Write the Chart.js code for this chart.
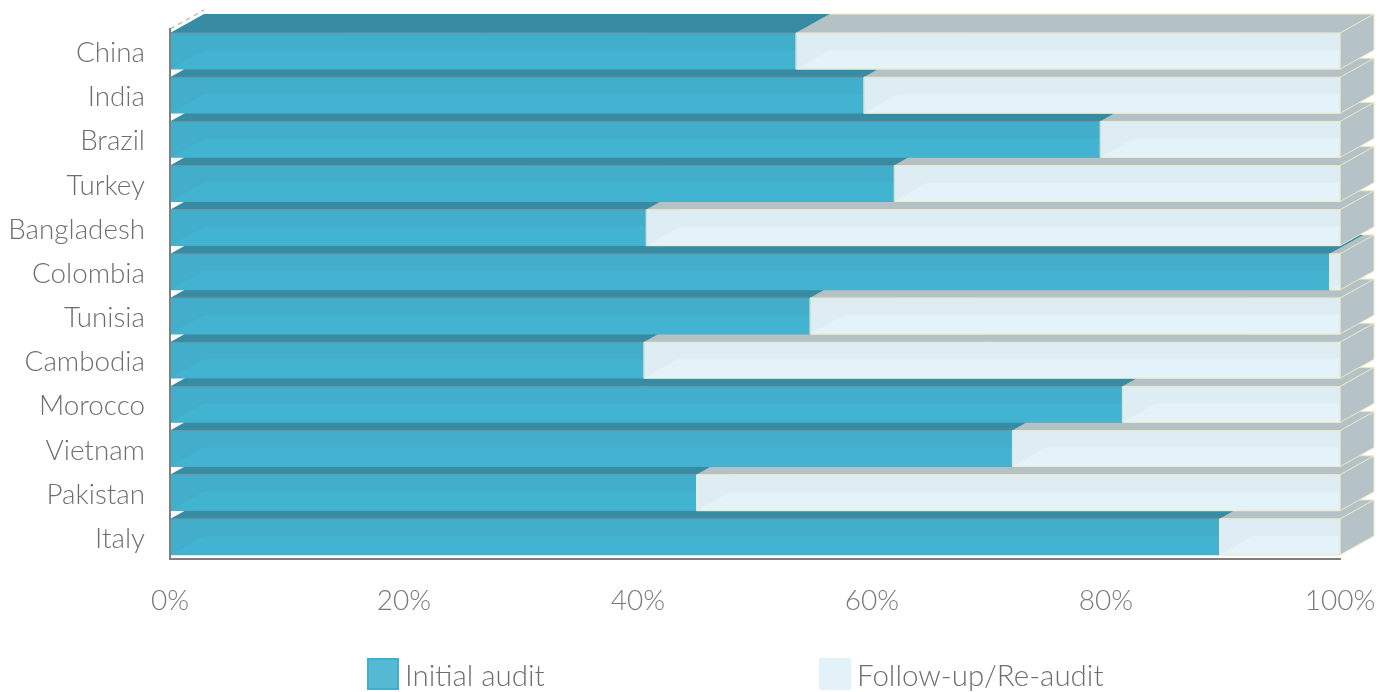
<!doctype html>
<html>

<head>
    <title>Audits</title>
    <script src="https://cdn.jsdelivr.net/npm/chart.js"></script>
    <style>
        body { margin: 0; background: #fff; }
        #wrap { position: relative; width: 1390px; height: 692px; overflow: hidden; }
        .item { position: absolute; top: 658px; height: 32px; font: 300 29.5px Lato, sans-serif; color: #6e6e6e; white-space: nowrap; }
        .box { position: absolute; left: 0; top: 0; width: 32px; height: 32px; box-sizing: border-box; }
        .txt { position: absolute; left: 38px; top: -1px; line-height: 36px; }
    </style>
</head>

<body>
    <div id="wrap">
        <canvas id="audits" width="1390" height="692"></canvas>
        <div class="item" style="left: 367px"><div class="box" style="background: #56b9d3; border: 2px solid #3fafcf"></div><span class="txt" id="l0"></span></div>
        <div class="item" style="left: 819px"><div class="box" style="background: #e3f2f9"></div><span class="txt" id="l1"></span></div>
    </div>

    <script>
        const countries = ['China', 'India', 'Brazil', 'Turkey', 'Bangladesh', 'Colombia', 'Tunisia', 'Cambodia', 'Morocco', 'Vietnam', 'Pakistan', 'Italy']
        const initialAudit = [53.5, 59.3, 79.5, 61.9, 40.7, 99.1, 54.7, 40.5, 81.4, 72.0, 45.0, 89.7]
        const followUp = [46.5, 40.7, 20.5, 38.1, 59.3, 0.9, 45.3, 59.5, 18.6, 28.0, 55.0, 10.3]

        // depth of the fake 3d box
        const dx = 34, dy = 19
        const faces = [
            { top: '#378ca3', side: '#378ca3', floor: '#42b4d1', edge: '#6f939b' },
            { top: '#b4c2c6', side: '#b5c3c8', floor: '#e4f3f9', edge: '#ece8c4' }
        ]

        function poly(ctx, pts, fill, stroke) {
            ctx.beginPath()
            pts.forEach((p, i) => i ? ctx.lineTo(p[0], p[1]) : ctx.moveTo(p[0], p[1]))
            ctx.closePath()
            if (fill) { ctx.fillStyle = fill; ctx.fill() }
            if (stroke) { ctx.strokeStyle = stroke; ctx.lineWidth = 1; ctx.stroke() }
        }

        // no extra room for the labels that hang over the plot edges
        function noOverflow(s) {
            s.paddingLeft = s.paddingRight = s.paddingTop = s.paddingBottom = 0
        }

        const box3d = {
            id: 'box3d',
            beforeDatasetsDraw(chart) {
                const ctx = chart.ctx, a = chart.chartArea
                ctx.save()
                // dashed depth line of the corner
                ctx.setLineDash([5, 4])
                ctx.strokeStyle = '#bdbdbd'
                ctx.lineWidth = 1.5
                ctx.beginPath()
                ctx.moveTo(a.left, a.top)
                ctx.lineTo(a.left + dx, a.top - dy)
                ctx.stroke()
                ctx.setLineDash([])
                // top and side faces, bottom row first
                for (let i = countries.length - 1; i >= 0; i--) {
                    chart.data.datasets.forEach((ds, d) => {
                        const el = chart.getDatasetMeta(d).data[i]
                        const y0 = el.y - el.height / 2, y1 = el.y + el.height / 2
                        const f = faces[d]
                        poly(ctx, [[el.base, y0], [el.x, y0], [el.x + dx, y0 - dy], [el.base + dx, y0 - dy]], f.top, null)
                        poly(ctx, [[el.x, y0], [el.x, y1], [el.x + dx, y1 - dy], [el.x + dx, y0 - dy]], f.side, d ? f.edge : null)
                        if (d) {
                            ctx.strokeStyle = f.edge
                            ctx.beginPath()
                            ctx.moveTo(el.base + dx, y0 - dy)
                            ctx.lineTo(el.x + dx, y0 - dy)
                            ctx.stroke()
                        }
                    })
                }
                ctx.restore()
            },
            afterDatasetsDraw(chart) {
                const ctx = chart.ctx
                ctx.save()
                chart.data.datasets.forEach((ds, d) => {
                    const f = faces[d]
                    chart.getDatasetMeta(d).data.forEach((el) => {
                        const y0 = el.y - el.height / 2, y1 = el.y + el.height / 2
                        // floor of the box seen through the front
                        ctx.save()
                        ctx.beginPath()
                        ctx.rect(el.base, y0, el.x - el.base, el.height)
                        ctx.clip()
                        poly(ctx, [[el.base, y1], [el.x + dx, y1], [el.x + dx, y1 - dy], [el.base + dx, y1 - dy]], f.floor, null)
                        ctx.restore()
                        if (d) {
                            poly(ctx, [[el.base, y0], [el.x, y0], [el.x, y1], [el.base, y1]], null, f.edge)
                        } else {
                            ctx.strokeStyle = f.edge
                            ctx.lineWidth = 1
                            ctx.beginPath()
                            ctx.moveTo(el.base, y0)
                            ctx.lineTo(el.x, y0)
                            ctx.stroke()
                        }
                    })
                })
                ctx.restore()
            }
        }

        var audits = new Chart(document.getElementById('audits').getContext('2d'), {
            type: 'bar',
            data: {
                labels: countries,
                datasets: [{
                    label: 'Initial audit',
                    data: initialAudit,
                    backgroundColor: '#42aecb',
                    barThickness: 36
                }, {
                    label: 'Follow-up/Re-audit',
                    data: followUp,
                    backgroundColor: '#deedf4',
                    barThickness: 36
                }]
            },
            options: {
                indexAxis: 'y',
                responsive: false,
                animation: false,
                layout: { padding: { top: 29, right: 50, left: 0, bottom: 0 } },
                plugins: { legend: { display: false }, tooltip: { enabled: false } },
                scales: {
                    x: {
                        stacked: true,
                        min: 0,
                        max: 100,
                        grid: { display: false },
                        border: { color: '#7f7f7f', width: 2 },
                        afterFit: (s) => { s.height = 133; noOverflow(s) },
                        ticks: {
                            stepSize: 20,
                            padding: 17,
                            maxRotation: 0,
                            color: '#7a7a7a',
                            font: { family: 'Lato', weight: 300, size: 28 },
                            callback: (v) => v + '%'
                        }
                    },
                    y: {
                        stacked: true,
                        grid: { display: false },
                        border: { color: '#7f7f7f', width: 2, z: 1 },
                        afterFit: (s) => { s.width = 170; noOverflow(s) },
                        ticks: {
                            padding: 17,
                            labelOffset: 2,
                            color: '#6e6e6e',
                            font: { family: 'Lato', weight: 300, size: 27.8 }
                        }
                    }
                }
            },
            plugins: [box3d]
        })

        document.getElementById('l0').textContent = audits.data.datasets[0].label
        document.getElementById('l1').textContent = audits.data.datasets[1].label
    </script>
</body>

</html>
